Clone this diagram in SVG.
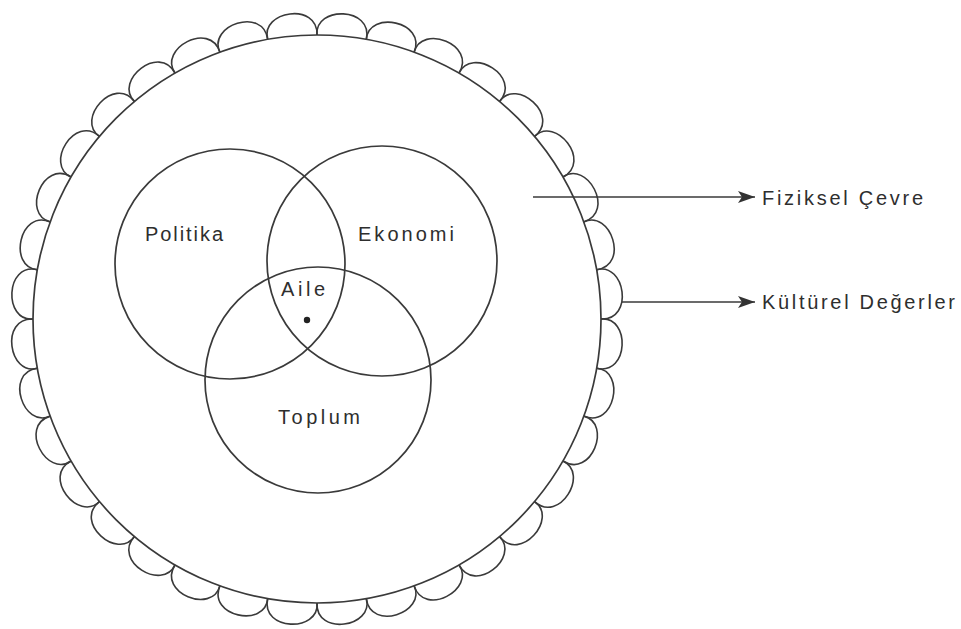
<svg xmlns="http://www.w3.org/2000/svg" xmlns:xlink="http://www.w3.org/1999/xlink" width="961" height="629" viewBox="0 0 961 629">
  <style>
    .ln { fill: none; stroke: #3a3a3a; stroke-width: 1.7; }
    .lbl { font-family: "Liberation Sans", Arial, sans-serif; font-size: 20px; fill: #2e2e2e; }
    .bump { fill: none; stroke: #3a3a3a; stroke-width: 1.6; stroke-linejoin: round; }
  </style>
  <defs>
    <path id="bump" class="bump" d="M292.25,36.08 C287,7 346,3 341.75,36.08"/>
    <marker id="ah" markerUnits="userSpaceOnUse" markerWidth="20" markerHeight="14" refX="17" refY="6" orient="auto">
      <path d="M0,0 L17,6 L0,12 L4,6 Z" fill="#333"/>
    </marker>
  </defs>
  <rect width="961" height="629" fill="#ffffff"/>

  <g id="fiziksel-cevre">
    <use href="#bump" transform="rotate(5 317 319)"/>
    <use href="#bump" transform="rotate(15 317 319)"/>
    <use href="#bump" transform="rotate(25 317 319)"/>
    <use href="#bump" transform="rotate(35 317 319)"/>
    <use href="#bump" transform="rotate(45 317 319)"/>
    <use href="#bump" transform="rotate(55 317 319)"/>
    <use href="#bump" transform="rotate(65 317 319)"/>
    <use href="#bump" transform="rotate(75 317 319)"/>
    <use href="#bump" transform="rotate(85 317 319)"/>
    <use href="#bump" transform="rotate(95 317 319)"/>
    <use href="#bump" transform="rotate(105 317 319)"/>
    <use href="#bump" transform="rotate(115 317 319)"/>
    <use href="#bump" transform="rotate(125 317 319)"/>
    <use href="#bump" transform="rotate(135 317 319)"/>
    <use href="#bump" transform="rotate(145 317 319)"/>
    <use href="#bump" transform="rotate(155 317 319)"/>
    <use href="#bump" transform="rotate(165 317 319)"/>
    <use href="#bump" transform="rotate(175 317 319)"/>
    <use href="#bump" transform="rotate(185 317 319)"/>
    <use href="#bump" transform="rotate(195 317 319)"/>
    <use href="#bump" transform="rotate(205 317 319)"/>
    <use href="#bump" transform="rotate(215 317 319)"/>
    <use href="#bump" transform="rotate(225 317 319)"/>
    <use href="#bump" transform="rotate(235 317 319)"/>
    <use href="#bump" transform="rotate(245 317 319)"/>
    <use href="#bump" transform="rotate(255 317 319)"/>
    <use href="#bump" transform="rotate(265 317 319)"/>
    <use href="#bump" transform="rotate(275 317 319)"/>
    <use href="#bump" transform="rotate(285 317 319)"/>
    <use href="#bump" transform="rotate(295 317 319)"/>
    <use href="#bump" transform="rotate(305 317 319)"/>
    <use href="#bump" transform="rotate(315 317 319)"/>
    <use href="#bump" transform="rotate(325 317 319)"/>
    <use href="#bump" transform="rotate(335 317 319)"/>
    <use href="#bump" transform="rotate(345 317 319)"/>
    <use href="#bump" transform="rotate(355 317 319)"/>
  </g>

  <g id="kulturel-degerler">
    <circle class="ln" cx="317" cy="319" r="284"/>
  </g>

  <g id="politika">
    <circle class="ln" cx="230" cy="264" r="115"/>
    <text class="lbl" x="145" y="241" textLength="78" lengthAdjust="spacing">Politika</text>
  </g>

  <g id="ekonomi">
    <circle class="ln" cx="382" cy="261" r="115"/>
    <text class="lbl" x="358" y="241" textLength="96" lengthAdjust="spacing">Ekonomi</text>
  </g>

  <g id="toplum">
    <circle class="ln" cx="318" cy="380" r="113"/>
    <text class="lbl" x="278" y="424" textLength="82" lengthAdjust="spacing">Toplum</text>
  </g>

  <g id="aile">
    <text class="lbl" x="281" y="296" textLength="44" lengthAdjust="spacing">Aile</text>
    <circle cx="307" cy="320" r="3.2" fill="#222"/>
  </g>

  <g id="connectors">
    <line class="ln" x1="533" y1="197" x2="755" y2="197" marker-end="url(#ah)"/>
    <line class="ln" x1="622" y1="302" x2="755" y2="302" marker-end="url(#ah)"/>
  </g>

  <g id="labels">
    <text class="lbl" x="762" y="205" textLength="161" lengthAdjust="spacing">Fiziksel Çevre</text>
    <text class="lbl" x="762" y="309" textLength="193" lengthAdjust="spacing">Kültürel Değerler</text>
  </g>
</svg>
